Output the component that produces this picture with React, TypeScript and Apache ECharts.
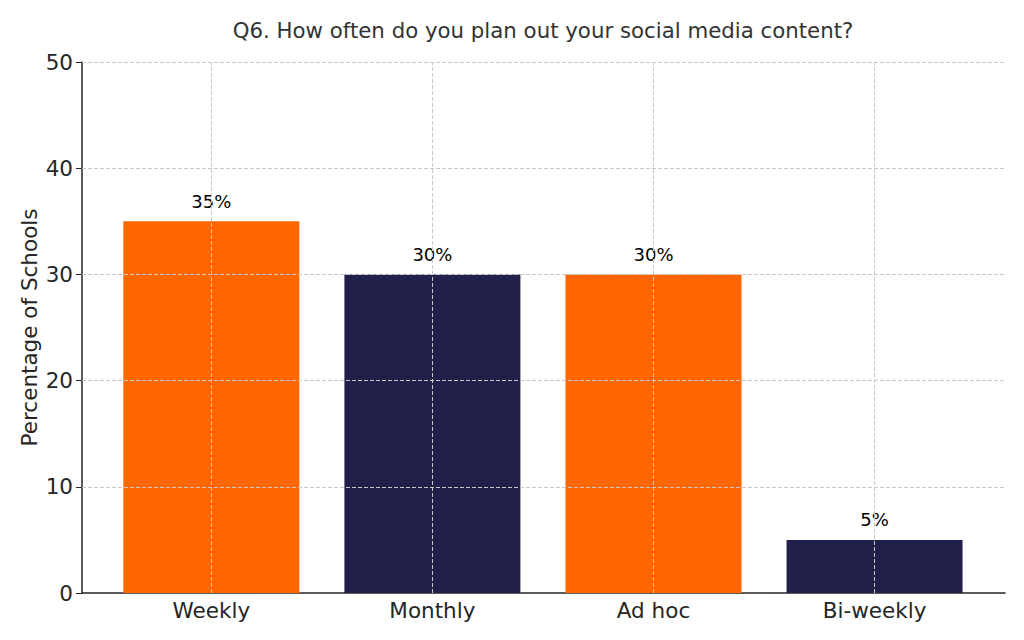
import React, { useEffect, useRef } from 'react';
import * as echarts from 'echarts';

const categories = ['Weekly', 'Monthly', 'Ad hoc', 'Bi-weekly'];
const values = [35, 30, 30, 5];
const barColors = ['#ff6600', '#21204a', '#ff6600', '#21204a'];
const yTicks = [10, 20, 30, 40, 50];

const FONT = 'DejaVu Sans';
const GRID_LINE = { color: '#c8c8c8', width: 1, type: [4, 2] as number[] };

const App: React.FC = () => {
	const chartRef = useRef<HTMLDivElement>(null);

	useEffect(() => {
		if (!chartRef.current) return;
		const chart = echarts.init(chartRef.current, undefined, { renderer: 'svg' });

		const option: any = {
			animation: false,
			backgroundColor: '#ffffff',
			textStyle: { fontFamily: FONT },
			title: {
				text: 'Q6. How often do you plan out your social media content?',
				left: 538,
				top: 15,
				textAlign: 'center',
				textStyle: { color: '#333333', fontSize: 21.3, fontWeight: 'normal', fontFamily: FONT }
			},
			grid: { left: 82, right: 19, top: 62, bottom: 47 },
			xAxis: {
				type: 'value',
				min: -0.585,
				max: 3.59,
				splitLine: { show: false },
				axisLine: { show: true, onZero: false, lineStyle: { color: '#262626', width: 1.5 } },
				axisTick: { show: true, inside: true, length: 4, customValues: [0, 1, 2, 3], lineStyle: { color: '#262626' } },
				axisLabel: {
					customValues: [0, 1, 2, 3],
					formatter: (v: number) => categories[Math.round(v)] ?? '',
					color: '#262626',
					fontSize: 21.5,
					margin: 6,
					fontFamily: FONT
				}
			},
			yAxis: {
				type: 'value',
				min: 0,
				max: 50,
				interval: 10,
				name: 'Percentage of Schools',
				nameLocation: 'middle',
				nameGap: 42,
				nameMoveOverlap: false,
				nameTextStyle: { color: '#262626', fontSize: 21.5, fontFamily: FONT },
				splitLine: { show: false },
				axisLine: { show: true, onZero: false, lineStyle: { color: '#262626', width: 1.5 } },
				axisTick: { show: true, length: 6, lineStyle: { color: '#262626' } },
				axisLabel: { color: '#262626', fontSize: 21.5, margin: 9, fontFamily: FONT }
			},
			series: [
				{
					type: 'bar',
					barWidth: 176,
					data: values.map((v, i) => ({ value: [i, v], itemStyle: { color: barColors[i] } })),
					label: {
						show: true,
						position: 'top',
						distance: 11,
						color: '#000000',
						fontSize: 18,
						fontFamily: FONT,
						formatter: (p: any) => `${values[p.dataIndex]}%`
					},
					markLine: {
						silent: true,
						symbol: ['none', 'none'],
						label: { show: false },
						lineStyle: GRID_LINE,
						data: [
							...yTicks.map(t => ({ yAxis: t })),
							...categories.map((_, i) => ({ xAxis: i }))
						]
					}
				}
			]
		};

		chart.setOption(option);
		return () => {
			chart.dispose();
		};
	}, []);

	return <div ref={chartRef} style={{ position: 'fixed', left: 0, top: 0, width: '1024px', height: '640px' }} />;
};

export default App;
